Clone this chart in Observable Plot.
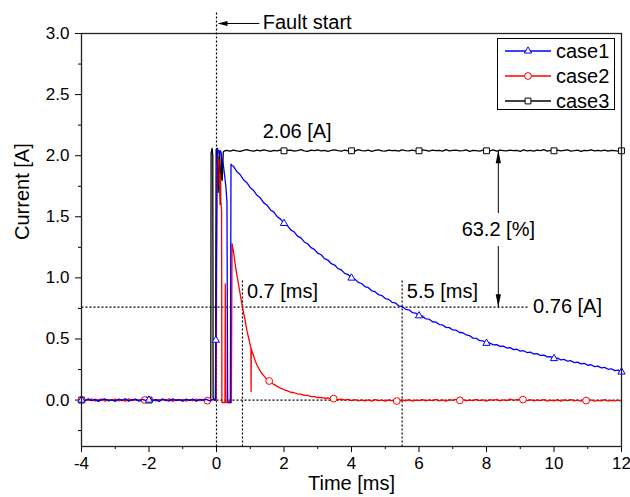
<!DOCTYPE html>
<html><head><meta charset="utf-8">
<script src="https://cdn.jsdelivr.net/npm/d3@7"></script>
<script src="https://cdn.jsdelivr.net/npm/@observablehq/plot@0.6"></script>
<style>body{margin:0;background:#fff}svg{display:block}</style>
</head><body><div id="chart"></div>
<script>
// ---- tick values ----
const xMajor = [-4, -2, 0, 2, 4, 6, 8, 10, 12];
const xMinor = [-3, -1, 1, 3, 5, 7, 9, 11];
const yMajor = [0, 0.5, 1.0, 1.5, 2.0, 2.5, 3.0];
const yMinor = [-0.25, 0.25, 0.75, 1.25, 1.75, 2.25, 2.75];

// ---- series: baseline samples from -4.0 ms every 0.1 ms ----
const case1Baseline = [0.004,-0.008,0.010,-0.005,0.006,-0.011,0.003,0.009,-0.006,0.002,
 -0.010,0.007,-0.003,0.011,-0.007,0.001,0.008,-0.009,0.005,-0.002,
 0.009,-0.006,0.004,-0.011,0.006,0.002,-0.008,0.010,-0.004,0.003,
 -0.009,0.007,-0.002,0.008,-0.010,0.005,-0.003,0.006,-0.007];
const case2Baseline = [-0.006,0.005,-0.002,0.009,-0.008,0.003,0.007,-0.010,0.004,-0.003,
 0.008,-0.006,0.002,-0.009,0.010,-0.004,0.006,-0.001,-0.008,0.005,
 -0.003,0.009,-0.007,0.001,0.007,-0.005,0.010,-0.009,0.004,-0.002,
 0.006,-0.008,0.003,-0.006,0.009,-0.004,0.002,-0.010,0.005];
const case3Baseline = [0.003,-0.004,0.006,-0.002,0.005,-0.006,0.002,0.004,-0.005,0.001,
 -0.003,0.006,-0.004,0.002,-0.006,0.004,0.001,-0.003,0.005,-0.002,
 0.004,-0.005,0.003,-0.001,0.006,-0.004,0.002,-0.006,0.003,0.000,
 -0.004,0.005,-0.002,0.004,-0.005,0.001,0.003,-0.003,0.002];

// ---- transients [time ms, current A] ----
const case1Transient = [[-0.1,0.005],[-0.03,0.0],[0.02,2.06],[0.04,2.05],[0.08,2.02],[0.12,2.04],[0.16,1.98],
 [0.20,1.93],[0.24,1.84],[0.28,1.74],[0.31,1.62],[0.33,-0.01],[0.37,-0.02],[0.41,-0.02],[0.43,1.93],[0.46,1.92]];
const case2Transient = [[-0.1,0.004],[-0.01,-0.005],[0.01,1.90],[0.03,2.00],[0.05,1.92],[0.07,1.97],[0.09,1.75],
 [0.11,1.85],[0.13,1.62],[0.15,1.55],[0.16,-0.02],[0.25,-0.02],[0.26,0.95],[0.28,-0.02],[0.44,-0.02],
 [0.46,1.28],[0.50,1.22],[0.55,1.12],[0.60,1.03],[0.65,0.95],[0.70,0.87],[0.75,0.79],[0.80,0.72],[0.85,0.65],
 [0.90,0.57],[0.95,0.51],[1.00,0.45],[1.02,0.43],[1.025,0.07],[1.03,0.42],[1.05,0.40],[1.10,0.36],[1.15,0.32],
 [1.20,0.285],[1.25,0.26],[1.30,0.235],[1.35,0.215],[1.40,0.20],[1.45,0.183],[1.50,0.17],[1.55,0.158],
 [1.60,0.148],[1.70,0.128],[1.80,0.112],[1.90,0.097],[2.00,0.086]];
const case3Transient = [[-0.17,0.0],[-0.16,2.02],[-0.13,2.06],[-0.11,2.0],[-0.10,0.02],[-0.06,0.0],[-0.03,0.01],
 [-0.01,2.05],[0.02,2.06],[0.05,1.70],[0.08,2.04],[0.11,1.60],[0.14,2.02],[0.17,1.80],[0.20,2.03],[0.24,2.04]];

// ---- tails every 0.1 ms ----
const case1TailStart = 0.5;
const case1Tail = [1.914,1.871,1.846,1.803,1.779,1.738,1.715,1.676,1.653,1.614,
 1.594,1.556,1.538,1.500,1.481,1.446,1.428,1.393,1.376,1.342,
 1.327,1.294,1.279,1.247,1.233,1.202,1.189,1.158,1.146,1.116,
 1.105,1.076,1.065,1.037,1.027,0.999,0.990,0.963,0.954,0.928,
 0.920,0.894,0.887,0.862,0.855,0.831,0.824,0.800,0.795,0.771,
 0.765,0.743,0.739,0.716,0.712,0.690,0.687,0.665,0.662,0.641,
 0.638,0.618,0.615,0.595,0.593,0.574,0.572,0.553,0.551,0.533,
 0.527,0.507,0.505,0.486,0.484,0.465,0.467,0.452,0.454,0.439,
 0.441,0.426,0.429,0.413,0.416,0.401,0.404,0.389,0.392,0.377,
 0.380,0.365,0.368,0.353,0.356,0.340,0.344,0.329,0.333,0.318,
 0.322,0.307,0.311,0.296,0.300,0.285,0.289,0.274,0.278,0.263,
 0.267,0.252,0.256,0.241,0.245,0.230];
const case2TailStart = 2.1;
const case2Tail = [0.076,0.064,0.060,0.050,0.049,0.039,0.038,0.029,0.029,0.021,
 0.022,0.015,0.017,0.010,0.013,0.004,0.008,0.000,0.006,-0.004,
 0.003,-0.006,0.002,-0.007,0.001,-0.008,0.003,-0.005,-0.001,-0.009,
 0.002,-0.007,-0.004,-0.010,0.001,-0.006,0.003,-0.008,0.000,-0.005,
 0.004,-0.007,0.002,-0.004,0.006,-0.006,0.001,-0.009,0.003,-0.003,
 0.005,-0.002,0.004,-0.007,0.002,-0.005,0.006,-0.004,0.001,-0.008,
 0.003,-0.003,0.005,-0.006,0.002,-0.004,0.007,-0.002,0.004,0.006,
 0.001,-0.005,0.003,-0.007,0.002,-0.004,0.004,-0.009,0.000,-0.006,
 0.003,-0.008,0.001,-0.005,0.004,-0.007,-0.001,-0.009,0.002,-0.006,
 0.001,-0.008,-0.002,-0.007,0.003,-0.009,-0.003,-0.006,0.000,-0.008];
const case3TailStart = 0.3;
const case3Tail = [2.043,2.038,2.046,2.040,2.035,2.044,2.049,2.041,2.037,2.045,
 2.039,2.047,2.042,2.036,2.044,2.040,2.048,2.038,2.043,2.046,
 2.037,2.042,2.049,2.040,2.035,2.045,2.041,2.047,2.039,2.044,
 2.036,2.043,2.048,2.041,2.038,2.046,2.040,2.044,2.037,2.049,
 2.042,2.039,2.045,2.036,2.043,2.047,2.040,2.038,2.046,2.041,
 2.044,2.037,2.048,2.042,2.039,2.045,2.040,2.036,2.047,2.043,
 2.038,2.046,2.041,2.044,2.037,2.049,2.040,2.043,2.045,2.039,
 2.042,2.047,2.036,2.044,2.041,2.038,2.046,2.043,2.040,2.048,
 2.037,2.045,2.042,2.039,2.046,2.041,2.044,2.036,2.047,2.040,
 2.043,2.038,2.045,2.042,2.049,2.037,2.044,2.040,2.046,2.039,
 2.043,2.047,2.038,2.041,2.045,2.036,2.044,2.042,2.048,2.039,
 2.043,2.040,2.046,2.038,2.044,2.041,2.037,2.045];

// ---- markers [time, current] ----
const case1Markers = [[-4,0.0],[-2,0.0],[-0.02,0.49],[2,1.446],[4,0.999],[6,0.69],[8,0.465],[10,0.34],[12,0.23]];
const case2Markers = [[-4,0.0],[-2.13,0.0],[-0.27,-0.005],[1.56,0.156],[3.47,0.012],[5.34,-0.008],[7.21,-0.002],[9.08,0.004],[10.95,-0.004]];
const case3Markers = [[-4,0.0],[-2,0.0],[2,2.04],[4,2.04],[6,2.04],[8,2.04],[10,2.04],[12,2.04]];

// ---- annotations ----
const faultTime = 0;
const tauCase2 = 0.77, tauCase1 = 5.5;
const steadyLevel = 2.045, tauLevel = 0.76;
const arrowTime = 8.35;

function build(base, transient, tailStart, tail) {
  const pts = base.map((v, i) => ({t: -4 + i * 0.1, c: v}));
  transient.forEach(([t, c]) => pts.push({t, c}));
  tail.forEach((v, i) => pts.push({t: tailStart + i * 0.1, c: v}));
  return pts;
}
const case1 = build(case1Baseline, case1Transient, case1TailStart, case1Tail);
const case2 = build(case2Baseline, case2Transient, case2TailStart, case2Tail);
const case3 = build(case3Baseline, case3Transient, case3TailStart, case3Tail);
const mk = a => a.map(([t, c]) => ({t, c}));

const dotted = [
  {x1: faultTime, y1: -0.38, x2: faultTime, y2: 3.172},
  {x1: 0, y1: 0, x2: 12, y2: 0},
  {x1: -4, y1: tauLevel, x2: 9.23, y2: tauLevel},
  {x1: tauCase2, y1: -0.38, x2: tauCase2, y2: 0.99},
  {x1: tauCase1, y1: -0.38, x2: tauCase1, y2: 0.99}
];
const solidSegs = [
  {x1: 0.2, y1: 3.082, x2: 1.27, y2: 3.082},
  {x1: arrowTime, y1: steadyLevel, x2: arrowTime, y2: 1.53},
  {x1: arrowTime, y1: 1.26, x2: arrowTime, y2: tauLevel}
];
const startLabels = [
  {x: 1.37, y: 3.09, text: "Fault start"},
  {x: 1.37, y: 2.20, text: "2.06 [A]"},
  {x: 0.90, y: 0.89, text: "0.7 [ms]"},
  {x: 5.64, y: 0.89, text: "5.5 [ms]"},
  {x: 9.38, y: 0.765, text: "0.76 [A]"}
];
const middleLabels = [
  {x: arrowTime, y: 1.393, text: "63.2 [%]"}
];

const headUp = {draw(ctx) { ctx.moveTo(0, -6.5); ctx.lineTo(2.6, 6.5); ctx.lineTo(-2.6, 6.5); ctx.closePath(); }};
const headDown = {draw(ctx) { ctx.moveTo(0, 6.5); ctx.lineTo(2.6, -6.5); ctx.lineTo(-2.6, -6.5); ctx.closePath(); }};
const headLeft = {draw(ctx) { ctx.moveTo(-5, 0); ctx.lineTo(5, 2.4); ctx.lineTo(5, -2.4); ctx.closePath(); }};

const font = "'Liberation Sans', Arial, Helvetica, sans-serif";
const lineW = 1.3;

const plot = Plot.plot({
  width: 630, height: 497,
  marginLeft: 81, marginRight: 9, marginTop: 33, marginBottom: 51,
  style: {fontFamily: font, background: "white", overflow: "visible", color: "black"},
  x: {domain: [-4, 12]},
  y: {domain: [-0.38, 3.0]},
  marks: [
    Plot.axisX({ticks: xMajor, tickSize: 6, tickPadding: 4, fontSize: 17, label: null, tickFormat: d => String(d)}),
    Plot.axisX({ticks: xMinor, tickSize: 3, tickFormat: () => "", label: null}),
    Plot.axisY({ticks: yMajor, tickSize: 6, tickPadding: 6, fontSize: 17, label: null, tickFormat: d3.format(".1f")}),
    Plot.axisY({ticks: yMinor, tickSize: 3, tickFormat: () => "", label: null}),
    Plot.link(dotted, {x1: "x1", y1: "y1", x2: "x2", y2: "y2", stroke: "black", strokeWidth: 1.2, strokeDasharray: "2,2"}),
    Plot.link(solidSegs, {x1: "x1", y1: "y1", x2: "x2", y2: "y2", stroke: "black", strokeWidth: 1}),
    Plot.dot([{t: 0.03, c: 3.082}], {x: "t", y: "c", symbol: headLeft, r: 3, fill: "black", stroke: null, dx: 5}),
    Plot.dot([{t: arrowTime, c: steadyLevel}], {x: "t", y: "c", symbol: headUp, r: 3, fill: "black", stroke: null, dy: 6.5}),
    Plot.dot([{t: arrowTime, c: tauLevel}], {x: "t", y: "c", symbol: headDown, r: 3, fill: "black", stroke: null, dy: -6.5}),
    Plot.line(case3, {x: "t", y: "c", stroke: "black", strokeWidth: lineW}),
    Plot.dot(mk(case3Markers), {x: "t", y: "c", symbol: "square", r: 3.3, stroke: "black", fill: "white", strokeWidth: 1}),
    Plot.line(case2, {x: "t", y: "c", stroke: "#ff0000", strokeWidth: lineW}),
    Plot.dot(mk(case2Markers), {x: "t", y: "c", symbol: "circle", r: 3.4, stroke: "#ff0000", fill: "white", strokeWidth: 1}),
    Plot.line(case1, {x: "t", y: "c", stroke: "#0000ff", strokeWidth: lineW}),
    Plot.dot(mk(case1Markers), {x: "t", y: "c", symbol: "triangle", r: 2.7, stroke: "#0000ff", fill: "white", strokeWidth: 1}),
    Plot.frame({stroke: "#222", strokeWidth: 1.3}),
    Plot.text(startLabels, {x: "x", y: "y", text: "text", textAnchor: "start", lineAnchor: "middle", fontSize: 20, fill: "black"}),
    Plot.text(middleLabels, {x: "x", y: "y", text: "text", textAnchor: "middle", lineAnchor: "middle", fontSize: 20, fill: "black"}),
    Plot.text(["Time [ms]"], {frameAnchor: "bottom", lineAnchor: "middle", dy: 37, fontSize: 20, fill: "black"}),
    Plot.text(["Current [A]"], {frameAnchor: "left", lineAnchor: "middle", dx: -59, rotate: -90, fontSize: 20, fill: "black"})
  ]
});

// ---- legend ----
const legendNames = ["case1", "case2", "case3"];
const legendColors = ["#0000ff", "#ff0000", "black"];
const legendSymbols = [d3.symbolTriangle, d3.symbolCircle, d3.symbolSquare];
const legendSizes = [22, 36, 34];
const svg = d3.select(plot);
const lg = svg.append("g").attr("font-family", font);
lg.append("rect").attr("x", 497.5).attr("y", 38.5).attr("width", 117).attr("height", 71)
  .attr("fill", "white").attr("stroke", "black").attr("stroke-width", 1);
legendNames.forEach((name, i) => {
  const y = 51 + i * 25;
  lg.append("line").attr("x1", 505).attr("x2", 551).attr("y1", y).attr("y2", y)
    .attr("stroke", legendColors[i]).attr("stroke-width", lineW);
  lg.append("path").attr("d", d3.symbol(legendSymbols[i], legendSizes[i])())
    .attr("transform", `translate(528,${y})`).attr("fill", "white").attr("stroke", legendColors[i]);
  lg.append("text").attr("x", 556).attr("y", y).attr("dy", "0.35em").attr("font-size", 20)
    .attr("text-anchor", "start").attr("fill", "black").text(name);
});

document.getElementById("chart").appendChild(plot);
</script>
</body></html>
